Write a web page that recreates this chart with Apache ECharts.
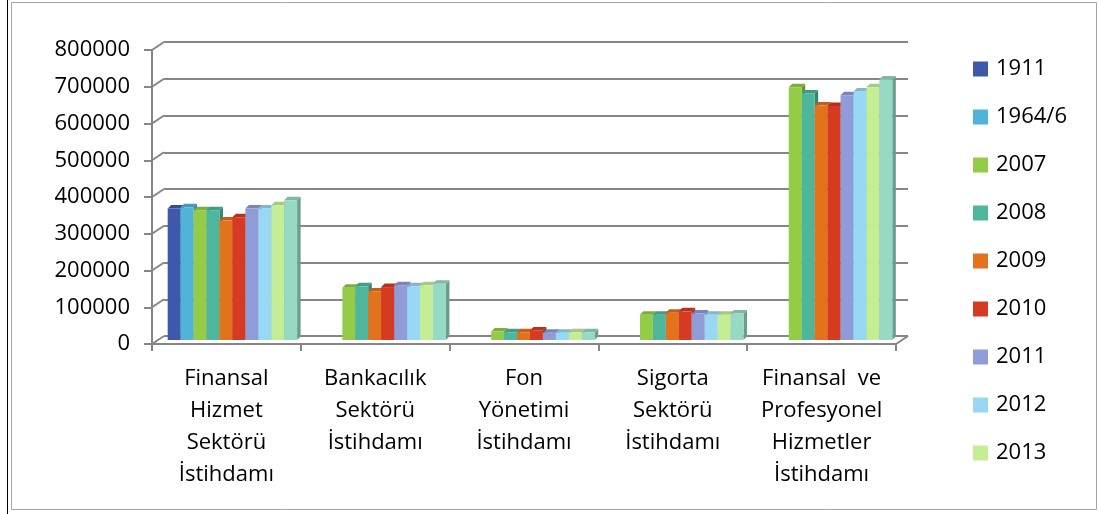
<!DOCTYPE html>
<html>
<head>
<meta charset="utf-8">
<script src="https://cdn.jsdelivr.net/npm/echarts@6/dist/echarts.min.js"></script>
<style>
html,body{margin:0;padding:0;background:#fff;}
#c{width:1099px;height:514px;}
</style>
</head>
<body>
<div id="c"></div>
<script>
// ---- data ----
var categories = [
  'Finansal\nHizmet\nSektörü\nİstihdamı',
  'Bankacılık\nSektörü\nİstihdamı',
  'Fon\nYönetimi\nİstihdamı',
  'Sigorta\nSektörü\nİstihdamı',
  'Finansal  ve\nProfesyonel\nHizmetler\nİstihdamı'
];
var years = ['1911','1964/6','2007','2008','2009','2010','2011','2012','2013','2014'];
var legendYears = ['1911','1964/6','2007','2008','2009','2010','2011','2012','2013'];
var yTicks = [0,100000,200000,300000,400000,500000,600000,700000,800000];

var v1911 = [358000, null, null, null, null];
var v1964 = [361000, null, null, null, null];
var v2007 = [353000, 142000, 23000, 69000, 688000];
var v2008 = [353000, 146000, 21000, 69000, 671000];
var v2009 = [325000, 132000, 21000, 74000, 638000];
var v2010 = [334000, 144000, 26000, 78000, 637000];
var v2011 = [358000, 149000, 20000, 72000, 666000];
var v2012 = [358000, 146000, 20000, 69000, 676000];
var v2013 = [367000, 149000, 21000, 69000, 688000];
var v2014 = [380000, 153000, 21000, 72000, 709000];
var seriesValues = [v1911, v1964, v2007, v2008, v2009, v2010, v2011, v2012, v2013, v2014];

var colors = ['#4058AC','#4FB4D8','#93CD47','#4EB79B','#E3721D','#D63B21','#8F9CD7','#98D8F5','#C3EE95','#97D9C4'];

var FONT = 'Open Sans';
var DX = 12, DY = 8;          // depth of 3D wall
var BDX = 3.5, BDY = 3.5;     // depth of a bar
var GROUP_FRAC = 0.87;

function shade(hex, f) {
  var r = parseInt(hex.substr(1,2),16), g = parseInt(hex.substr(3,2),16), b = parseInt(hex.substr(5,2),16);
  r = Math.round(r*f); g = Math.round(g*f); b = Math.round(b*f);
  return 'rgb(' + r + ',' + g + ',' + b + ')';
}

function barRender(sIdx, color) {
  return function (params, api) {
    var c = api.coord([api.value(0), api.value(1)]);
    var base = api.coord([api.value(0), 0]);
    var band = api.size([1, 0])[0];
    var gw = band * GROUP_FRAC;
    var bw = gw / years.length;
    var x0 = c[0] - gw / 2 + sIdx * bw;
    var y1 = c[1], y0 = base[1];
    return {
      type: 'group',
      children: [
        { type: 'polygon', shape: { points: [[x0 + bw, y1], [x0 + bw + BDX, y1 - BDY], [x0 + bw + BDX, y0 - BDY], [x0 + bw, y0]] },
          style: { fill: shade(color, 0.72) } },
        { type: 'polygon', shape: { points: [[x0, y1], [x0 + BDX, y1 - BDY], [x0 + bw + BDX, y1 - BDY], [x0 + bw, y1]] },
          style: { fill: shade(color, 0.85) } },
        { type: 'rect', shape: { x: x0, y: y1, width: bw, height: y0 - y1 },
          style: { fill: color } }
      ]
    };
  };
}

var series = [];
// wall connectors (front axis ticks to back wall)
series.push({
  type: 'custom',
  name: '_walls',
  xAxisIndex: 0, yAxisIndex: 0,
  silent: true,
  z: 1,
  data: [[0, 0]],
  renderItem: function (params, api) {
    var cs = params.coordSys;
    var children = [];
    yTicks.forEach(function (v) {
      var p = api.coord([0, v]);
      children.push({ type: 'line', shape: { x1: cs.x, y1: p[1], x2: cs.x + DX, y2: p[1] - DY },
        style: { stroke: '#868686', lineWidth: 2 } });
    });
    var pb = api.coord([0, 0]);
    children.push({ type: 'line', shape: { x1: cs.x + cs.width, y1: pb[1], x2: cs.x + cs.width + DX, y2: pb[1] - DY },
      style: { stroke: '#868686', lineWidth: 2 } });
    return { type: 'group', children: children };
  }
});

years.forEach(function (y, i) {
  var data = [];
  seriesValues[i].forEach(function (v, ci) { if (v !== null) data.push([ci, v]); });
  series.push({
    type: 'custom',
    name: y,
    xAxisIndex: 2, yAxisIndex: 2,
    itemStyle: { color: colors[i] },
    z: 3,
    data: data,
    renderItem: barRender(i, colors[i])
  });
});

var chart = echarts.init(document.getElementById('c'), null, { renderer: 'canvas' });
chart.setOption({
  animation: false,
  backgroundColor: '#fff',
  graphic: [
    { type: 'rect', shape: { x: 11.5, y: 2.5, width: 1085, height: 507 }, style: { fill: 'none', stroke: '#a6a6a6', lineWidth: 1 }, z: -10 },
    { type: 'line', shape: { x1: 7.5, y1: 0, x2: 7.5, y2: 514 }, style: { stroke: '#000', lineWidth: 1 }, z: -10 }
  ],
  legend: {
    data: legendYears,
    orient: 'vertical',
    left: 968,
    top: 53,
    icon: 'rect',
    itemWidth: 15,
    itemHeight: 15,
    itemGap: 26,
    textStyle: { fontFamily: FONT, fontSize: 22, lineHeight: 22, color: '#000', padding: [0, 0, 0, 3] }
  },
  grid: [
    { left: 152, right: 203, top: 50, bottom: 170 },
    { left: 164, right: 191, top: 42, bottom: 178 },
    { left: 158, right: 197, top: 46, bottom: 174 }
  ],
  xAxis: [
    { type: 'category', gridIndex: 0, data: categories,
      axisLine: { show: true, lineStyle: { color: '#868686', width: 2 } },
      axisTick: { show: true, length: 7, lineStyle: { color: '#868686', width: 2 } },
      axisLabel: { interval: 0, margin: 19, fontFamily: FONT, fontSize: 22, lineHeight: 32, color: '#000' },
      splitLine: { show: false } },
    { type: 'category', gridIndex: 1, data: categories, show: false },
    { type: 'category', gridIndex: 2, data: categories, show: false }
  ],
  yAxis: [
    { type: 'value', gridIndex: 0, min: 0, max: 800000, interval: 100000,
      axisLine: { show: true, lineStyle: { color: '#868686', width: 2 } },
      axisTick: { show: true, length: 8, lineStyle: { color: '#868686', width: 2 } },
      axisLabel: { margin: 22, fontFamily: FONT, fontSize: 22, color: '#000',
        formatter: function (v) { return String(v); } },
      splitLine: { show: false } },
    { type: 'value', gridIndex: 1, min: 0, max: 800000, interval: 100000,
      axisLine: { show: false }, axisTick: { show: false }, axisLabel: { show: false },
      splitLine: { show: true, lineStyle: { color: '#868686', width: 2 } } },
    { type: 'value', gridIndex: 2, min: 0, max: 800000, interval: 100000, show: false,
      splitLine: { show: false } }
  ],
  series: series
});
</script>
</body>
</html>
